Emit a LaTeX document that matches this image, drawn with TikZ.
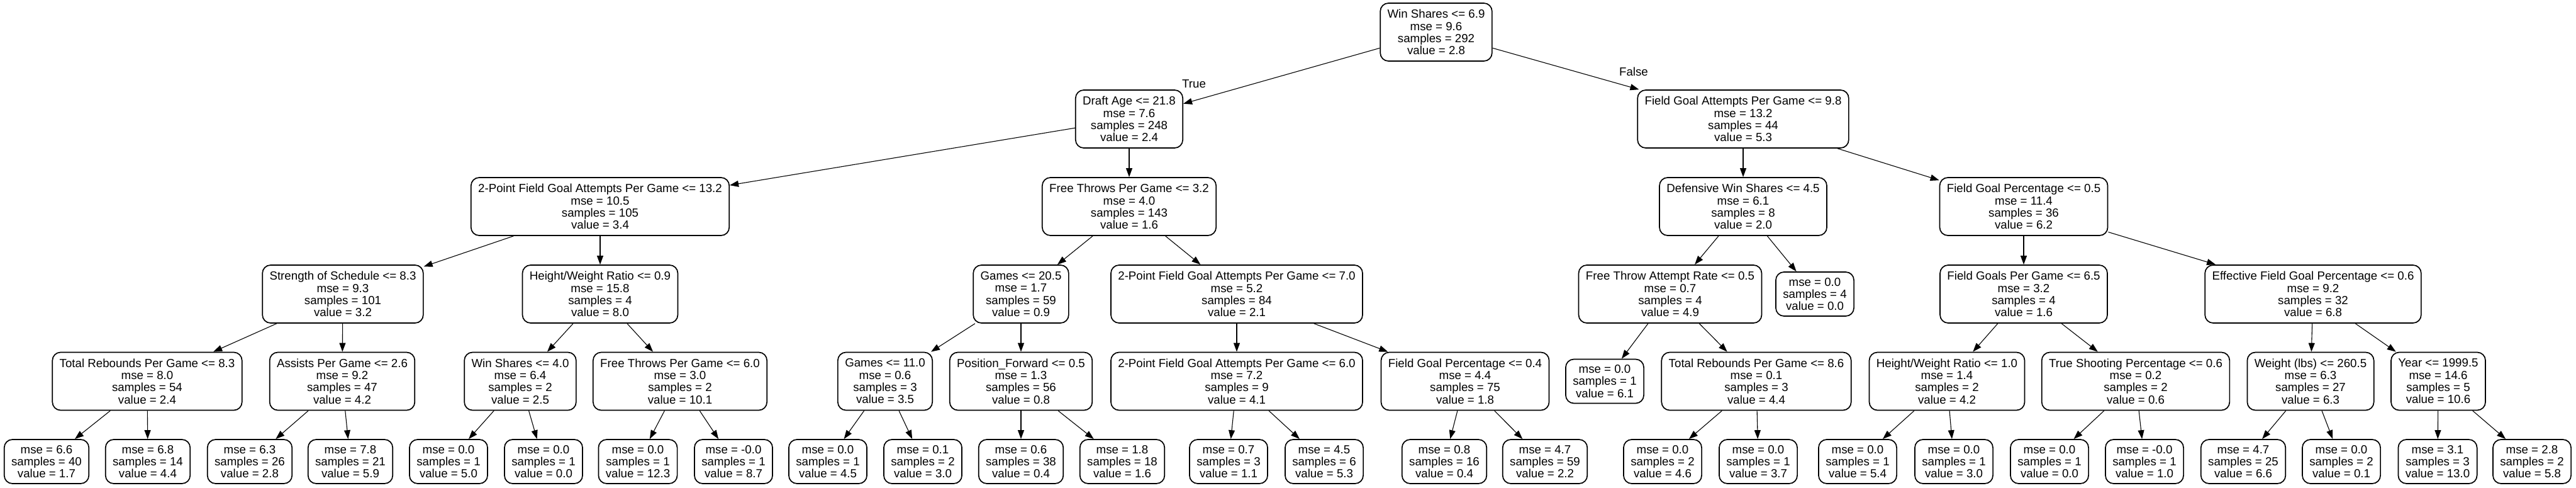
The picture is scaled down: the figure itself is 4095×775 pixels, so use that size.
\documentclass[tikz,border=0pt]{standalone}
\usepackage{fontspec}
\setmainfont{Liberation Sans}
\usetikzlibrary{arrows.meta}
\begin{document}
\begin{tikzpicture}[x=0.5pt,y=-0.5pt,
  box/.style={draw, rounded corners=6.5pt, line width=0.85pt, align=center,
    font=\fontsize{9.35}{9.65}\selectfont, inner xsep=5.7pt, inner ysep=0pt,
    minimum height=46pt},
  leaf/.style={box, minimum height=35pt},
  conn/.style={line width=0.55pt, -{Triangle[length=7pt,width=5pt]}},
  lbl/.style={font=\fontsize{9.35}{9.65}\selectfont, inner sep=0pt}]
\useasboundingbox (0,0) rectangle (4095,775);
% level 0
\node[box] (r) at (2283,51) {Win Shares <= 6.9\\mse = 9.6\\samples = 292\\value = 2.8};
% level 1
\node[box] (a) at (1795,189) {Draft Age <= 21.8\\mse = 7.6\\samples = 248\\value = 2.4};
\node[box] (b) at (2771,189) {Field Goal Attempts Per Game <= 9.8\\mse = 13.2\\samples = 44\\value = 5.3};
% level 2
\node[box] (a1) at (954,328) {2-Point Field Goal Attempts Per Game <= 13.2\\mse = 10.5\\samples = 105\\value = 3.4};
\node[box] (a2) at (1795,328) {Free Throws Per Game <= 3.2\\mse = 4.0\\samples = 143\\value = 1.6};
\node[box] (b1) at (2771,328) {Defensive Win Shares <= 4.5\\mse = 6.1\\samples = 8\\value = 2.0};
\node[box] (b2) at (3217,328) {Field Goal Percentage <= 0.5\\mse = 11.4\\samples = 36\\value = 6.2};
% level 3
\node[box] (a1a) at (545,467) {Strength of Schedule <= 8.3\\mse = 9.3\\samples = 101\\value = 3.2};
\node[box] (a1b) at (954,467) {Height/Weight Ratio <= 0.9\\mse = 15.8\\samples = 4\\value = 8.0};
\node[box] (a2a) at (1623,467) {Games <= 20.5\\mse = 1.7\\samples = 59\\value = 0.9};
\node[box] (a2b) at (1966,467) {2-Point Field Goal Attempts Per Game <= 7.0\\mse = 5.2\\samples = 84\\value = 2.1};
\node[box] (b1a) at (2655,467) {Free Throw Attempt Rate <= 0.5\\mse = 0.7\\samples = 4\\value = 4.9};
\node[leaf] (b1b) at (2885,467) {mse = 0.0\\samples = 4\\value = 0.0};
\node[box] (b2a) at (3217,467) {Field Goals Per Game <= 6.5\\mse = 3.2\\samples = 4\\value = 1.6};
\node[box] (b2b) at (3677,467) {Effective Field Goal Percentage <= 0.6\\mse = 9.2\\samples = 32\\value = 6.8};
% level 4
\node[box] (a1a1) at (234,605.5) {Total Rebounds Per Game <= 8.3\\mse = 8.0\\samples = 54\\value = 2.4};
\node[box] (a1a2) at (544,605.5) {Assists Per Game <= 2.6\\mse = 9.2\\samples = 47\\value = 4.2};
\node[box] (a1b1) at (827,605.5) {Win Shares <= 4.0\\mse = 6.4\\samples = 2\\value = 2.5};
\node[box] (a1b2) at (1081,605.5) {Free Throws Per Game <= 6.0\\mse = 3.0\\samples = 2\\value = 10.1};
\node[box] (a2a1) at (1407,605.5) {Games <= 11.0\\mse = 0.6\\samples = 3\\value = 3.5};
\node[box] (a2a2) at (1623,605.5) {Position\_Forward <= 0.5\\mse = 1.3\\samples = 56\\value = 0.8};
\node[box] (a2b1) at (1966,605.5) {2-Point Field Goal Attempts Per Game <= 6.0\\mse = 7.2\\samples = 9\\value = 4.1};
\node[box] (a2b2) at (2329,605.5) {Field Goal Percentage <= 0.4\\mse = 4.4\\samples = 75\\value = 1.8};
\node[leaf] (b1a1) at (2551,605.5) {mse = 0.0\\samples = 1\\value = 6.1};
\node[box] (b1a2) at (2792,605.5) {Total Rebounds Per Game <= 8.6\\mse = 0.1\\samples = 3\\value = 4.4};
\node[box] (b2a1) at (3095,605.5) {Height/Weight Ratio <= 1.0\\mse = 1.4\\samples = 2\\value = 4.2};
\node[box] (b2a2) at (3395,605.5) {True Shooting Percentage <= 0.6\\mse = 0.2\\samples = 2\\value = 0.6};
\node[box] (b2b1) at (3673,605.5) {Weight (lbs) <= 260.5\\mse = 6.3\\samples = 27\\value = 6.3};
\node[box] (b2b2) at (3876,605.5) {Year <= 1999.5\\mse = 14.6\\samples = 5\\value = 10.6};
% level 5 leaves
\node[leaf] (l1) at (74,733) {mse = 6.6\\samples = 40\\value = 1.7};
\node[leaf] (l2) at (235,733) {mse = 6.8\\samples = 14\\value = 4.4};
\node[leaf] (l3) at (397,733) {mse = 6.3\\samples = 26\\value = 2.8};
\node[leaf] (l4) at (557,733) {mse = 7.8\\samples = 21\\value = 5.9};
\node[leaf] (l5) at (713,733) {mse = 0.0\\samples = 1\\value = 5.0};
\node[leaf] (l6) at (864,733) {mse = 0.0\\samples = 1\\value = 0.0};
\node[leaf] (l7) at (1014,733) {mse = 0.0\\samples = 1\\value = 12.3};
\node[leaf] (l8) at (1166,733) {mse = -0.0\\samples = 1\\value = 8.7};
\node[leaf] (l9) at (1316,733) {mse = 0.0\\samples = 1\\value = 4.5};
\node[leaf] (l10) at (1467,733) {mse = 0.1\\samples = 2\\value = 3.0};
\node[leaf] (l11) at (1623,733) {mse = 0.6\\samples = 38\\value = 0.4};
\node[leaf] (l12) at (1784,733) {mse = 1.8\\samples = 18\\value = 1.6};
\node[leaf] (l13) at (1953,733) {mse = 0.7\\samples = 3\\value = 1.1};
\node[leaf] (l14) at (2105,733) {mse = 4.5\\samples = 6\\value = 5.3};
\node[leaf] (l15) at (2296,733) {mse = 0.8\\samples = 16\\value = 0.4};
\node[leaf] (l16) at (2456,733) {mse = 4.7\\samples = 59\\value = 2.2};
\node[leaf] (l17) at (2643,733) {mse = 0.0\\samples = 2\\value = 4.6};
\node[leaf] (l18) at (2795,733) {mse = 0.0\\samples = 1\\value = 3.7};
\node[leaf] (l19) at (2953,733) {mse = 0.0\\samples = 1\\value = 5.4};
\node[leaf] (l20) at (3106,733) {mse = 0.0\\samples = 1\\value = 3.0};
\node[leaf] (l21) at (3258,733) {mse = 0.0\\samples = 1\\value = 0.0};
\node[leaf] (l22) at (3409,733) {mse = -0.0\\samples = 1\\value = 1.0};
\node[leaf] (l23) at (3566,733) {mse = 4.7\\samples = 25\\value = 6.6};
\node[leaf] (l24) at (3722,733) {mse = 0.0\\samples = 2\\value = 0.1};
\node[leaf] (l25) at (3875,733) {mse = 3.1\\samples = 3\\value = 13.0};
\node[leaf] (l26) at (4025,733) {mse = 2.8\\samples = 2\\value = 5.8};
% edges
\foreach \p/\c in {r/a, r/b, a/a1, a/a2, b/b1, b/b2,
  a1/a1a, a1/a1b, a2/a2a, a2/a2b, b1/b1a, b1/b1b, b2/b2a, b2/b2b,
  a1a/a1a1, a1a/a1a2, a1b/a1b1, a1b/a1b2, a2a/a2a1, a2a/a2a2,
  a2b/a2b1, a2b/a2b2, b1a/b1a1, b1a/b1a2, b2a/b2a1, b2a/b2a2,
  b2b/b2b1, b2b/b2b2,
  a1a1/l1, a1a1/l2, a1a2/l3, a1a2/l4, a1b1/l5, a1b1/l6, a1b2/l7, a1b2/l8,
  a2a1/l9, a2a1/l10, a2a2/l11, a2a2/l12, a2b1/l13, a2b1/l14, a2b2/l15, a2b2/l16,
  b1a2/l17, b1a2/l18, b2a1/l19, b2a1/l20, b2a2/l21, b2a2/l22,
  b2b1/l23, b2b1/l24, b2b2/l25, b2b2/l26}
  \draw[conn] (\p) -- (\c);
% edge labels
\node[lbl] (tlab) at (1898,133) {True};
\node[lbl] (flab) at (2597,114) {False};
\end{tikzpicture}
\end{document}
